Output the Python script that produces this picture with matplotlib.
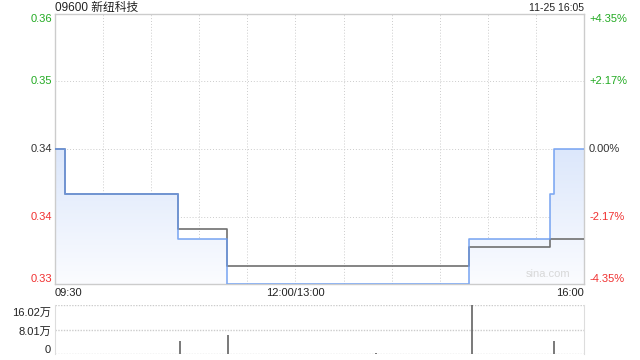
import numpy as np
import matplotlib
matplotlib.use("Agg")
import matplotlib.pyplot as plt

plt.rcParams['font.family'] = ['Liberation Sans', 'Noto Sans CJK SC', 'DejaVu Sans']

# minutes since 09:30 (lunch break removed: 0..150 morning, 150..330 afternoon)
price_times = [0, 6, 77, 107, 258, 309, 311, 330]
price_vals = [0.345, 0.340, 0.335, 0.330, 0.335, 0.340, 0.345, 0.345]
avg_times = [0, 6, 77, 107, 258, 309, 330]
avg_vals = [0.345, 0.340, 0.3361, 0.3320, 0.3341, 0.3350, 0.3350]

vol_times = [78, 108, 200, 260, 311]
vol_vals = [4.2, 6.2, 0.3, 16.02, 4.3]   # 万

prev_close = 0.345
price_ticks = [0.36, 0.35256, 0.345, 0.33744, 0.33]
price_labels = ["0.36", "0.35", "0.34", "0.34", "0.33"]
pct_labels = ["+4.35%", "+2.17%", "0.00%", "-2.17%", "-4.35%"]
label_colors = ["#22aa22", "#22aa22", "#333333", "#f03030", "#f03030"]
vol_ticks = [0, 8.01, 16.02]
vol_labels = ["0", "8.01万", "16.02万"]
x_labels = ["09:30", "12:00/13:00", "16:00"]

fig = plt.figure(figsize=(6.4, 3.6), dpi=100)
ax = fig.add_axes([55 / 640, 1 - 284 / 360, 529 / 640, 270 / 360])
vax = fig.add_axes([55 / 640, 1 - 354 / 360, 529 / 640, 49 / 360])

border = "#cccccc"
grid = "#cccccc"

# main price panel
ax.set_xlim(0, 330)
ax.set_ylim(0.33, 0.36)
for x in range(30, 330, 30):
    ax.axvline(x, color=grid, lw=0.7, ls=(0, (1, 2)), zorder=1)
for y in price_ticks[1:4]:
    ax.axhline(y, color=grid, lw=0.7, ls=(0, (1, 2)), zorder=1)

# gradient fill under price line
st = np.repeat(price_times, 2)[1:]
sv = np.repeat(price_vals, 2)[:-1]
poly = ax.fill_between(st, sv, 0.33, color="none", lw=0)
grad = np.linspace(0, 1, 256).reshape(-1, 1)
cmap = matplotlib.colors.LinearSegmentedColormap.from_list("g", ["#fbfcff", "#dce7fb"])
im = ax.imshow(grad, extent=[0, 330, 0.33, 0.345], origin="lower", aspect="auto",
               cmap=cmap, zorder=2)
im.set_clip_path(poly.get_paths()[0], transform=ax.transData)
poly.remove()

ax.step(avg_times, avg_vals, where="post", color="#707070", lw=1.2, zorder=3)
ax.step(price_times, price_vals, where="post", color="#6b9cf0", lw=1.2, alpha=0.85, zorder=4)

ax.set_xticks([])
ax.set_yticks([])
for s in ax.spines.values():
    s.set_color(border)
    s.set_linewidth(1)

for y, lab, c, p in zip(price_ticks, price_labels, label_colors, pct_labels):
    dy = -5 if y == 0.36 else (5 if y == 0.33 else 0)
    ax.annotate(lab, (0, y), xycoords=("axes fraction", "data"), xytext=(-3, dy),
                textcoords="offset pixels", ha="right", va="center", fontsize=8, color=c)
    ax.annotate(p, (1, y), xycoords=("axes fraction", "data"), xytext=(5, dy),
                textcoords="offset pixels", ha="left", va="center", fontsize=8, color=c)

ax.annotate("09600 新纽科技", (0, 1), xycoords="axes fraction", xytext=(0, 3),
            textcoords="offset pixels", ha="left", va="baseline", fontsize=8.5, color="#222222")
ax.annotate("11-25 16:05", (1, 1), xycoords="axes fraction", xytext=(0, 3),
            textcoords="offset pixels", ha="right", va="baseline", fontsize=7.5, color="#222222")
ax.text(0.975, 0.02, "sina.com", transform=ax.transAxes, ha="right", va="bottom",
        fontsize=8, color="#d8d8d8")

ax.text(0, -0.015, x_labels[0], transform=ax.transAxes, ha="left", va="top", fontsize=8, color="#222222")
ax.text(150 / 330, -0.015, x_labels[1], transform=ax.transAxes, ha="center", va="top", fontsize=8, color="#222222")
ax.text(1, -0.015, x_labels[2], transform=ax.transAxes, ha="right", va="top", fontsize=8, color="#222222")

# volume panel
vax.set_xlim(0, 330)
vax.set_ylim(0, 16.02)
vax.vlines(vol_times, 0, vol_vals, color="#555555", lw=1.1, zorder=3)
for y in vol_ticks:
    vax.axhline(y, color=grid, lw=1, ls=(0, (1, 1)), zorder=1)
vax.set_xticks([])
vax.set_yticks([])
for k in ["top", "bottom"]:
    vax.spines[k].set_visible(False)
for k in ["left", "right"]:
    vax.spines[k].set_color("#dddddd")
for y, lab in zip(vol_ticks, vol_labels):
    dy = 4 if y == 0 else (-2 if y == 8.01 else -8)
    vax.annotate(lab, (0, y), xycoords=("axes fraction", "data"), xytext=(-4, dy),
                 textcoords="offset pixels", ha="right", va="center", fontsize=8, color="#222222")

fig.savefig("out.png", dpi=100)
